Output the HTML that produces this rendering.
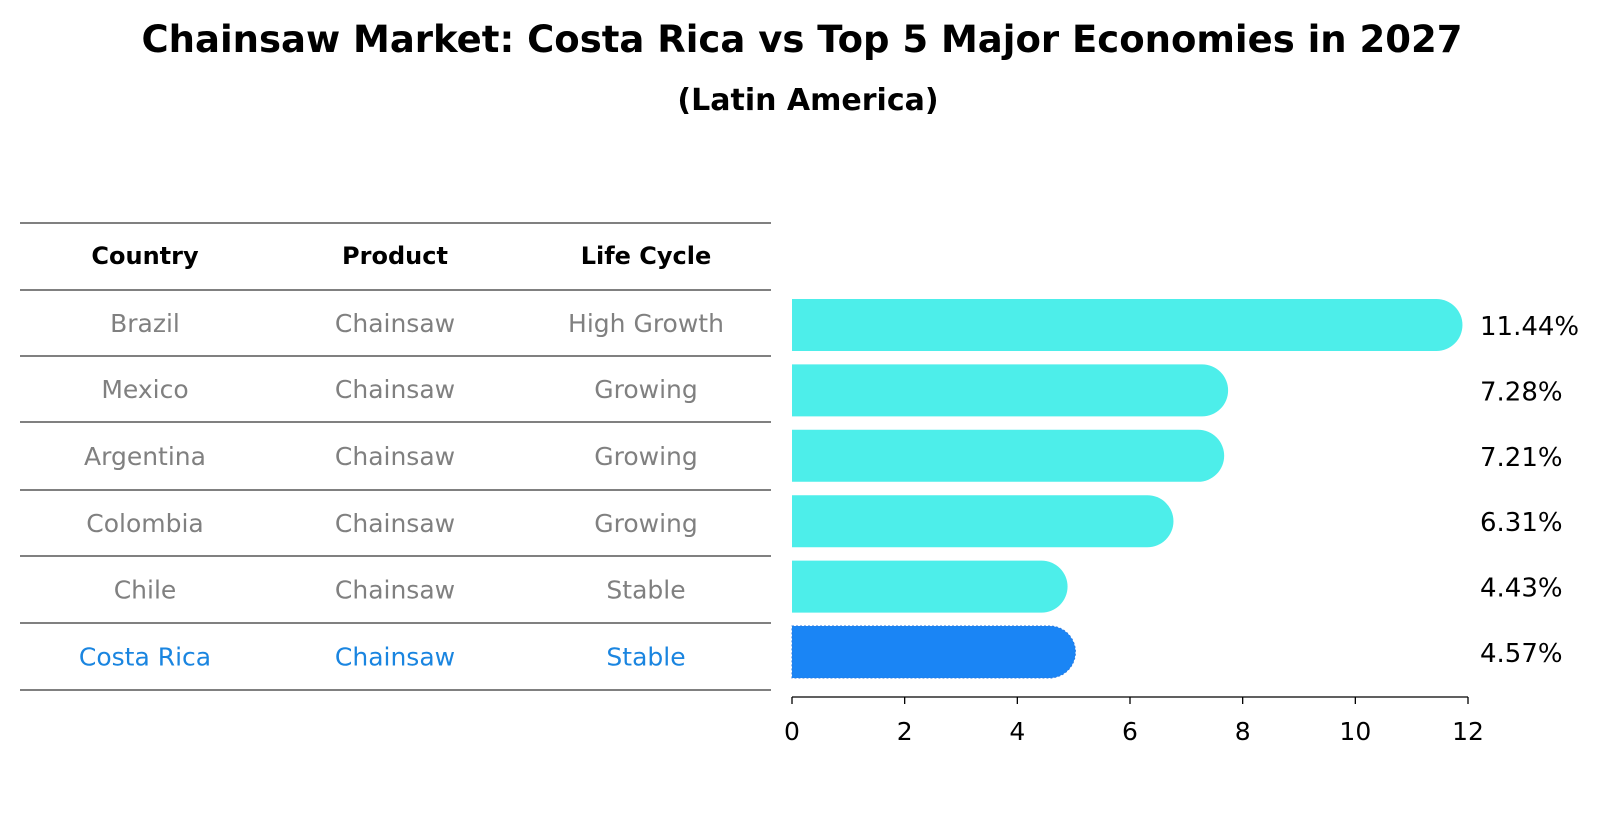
<!DOCTYPE html>
<html><head><meta charset="utf-8"><style>
body{margin:0;background:#fff;font-family:"Liberation Sans","DejaVu Sans",sans-serif}
svg text{font-family:"DejaVu Sans","Liberation Sans",sans-serif}
</style></head><body>
<svg id="c" width="1604" height="823" xmlns="http://www.w3.org/2000/svg">
<text x="802" y="52" text-anchor="middle" font-size="37" font-weight="bold">Chainsaw Market: Costa Rica vs Top 5 Major Economies in 2027</text>
<text x="808" y="110" text-anchor="middle" font-size="30" font-weight="bold">(Latin America)</text>
<g id="tbl"></g>
<g id="bars"></g>
</svg>
<script>
const countries=["Brazil","Mexico","Argentina","Colombia","Chile","Costa Rica"];
const products=["Chainsaw","Chainsaw","Chainsaw","Chainsaw","Chainsaw","Chainsaw"];
const lifecycle=["High Growth","Growing","Growing","Growing","Stable","Stable"];
const values=[11.44,7.28,7.21,6.31,4.43,4.57];
const ticks=[0,2,4,6,8,10,12];
const NS="http://www.w3.org/2000/svg";
function mk(p,t,a,txt){const e=document.createElementNS(NS,t);for(const k in a)e.setAttribute(k,a[k]);if(txt!==undefined)e.textContent=txt;p.appendChild(e);return e;}
const tbl=document.getElementById('tbl'),bars=document.getElementById('bars');
const lines=[223,290,356,422,490,556,623,690];
lines.forEach((y,i)=>{const l=mk(tbl,'line',{x1:20,x2:771,y1:y,y2:y,stroke:'#000','stroke-width':1});

});
const cx=[145,395,646];
["Country","Product","Life Cycle"].forEach((h,i)=>{const t=mk(tbl,'text',{x:cx[i],y:264,'text-anchor':'middle','font-size':24,'font-weight':'bold'},h);

});
const X=v=>792+v*(1468-792)/12;
const rowY=i=>325+i*65.4;
countries.forEach((c,i)=>{
 const y=(lines[i+1]+lines[i+2])/2+9;
 const col=i===5?'#1a85e0':'#808080';
 [c,products[i],lifecycle[i]].forEach((s,j)=>{const t=mk(tbl,'text',{x:cx[j],y:y,'text-anchor':'middle','font-size':25,fill:col},s);
 
 });
 const cy=rowY(i),h=52,r=26;
 const x0=X(0),x1=X(values[i]);
 const fill=i===5?'#1a85f5':'#4deeea';
 const p=mk(bars,'path',{d:`M${x0},${cy-h/2}H${x1}A${r},${r} 0 0 1 ${x1},${cy+h/2}H${x0}Z`,fill:fill,stroke:i===5?'#2a7ae0':'none','stroke-dasharray':i===5?'2,2':'none'});
 
 
 const t=mk(bars,'text',{x:1480,y:cy+10,'font-size':26},values[i].toFixed(2)+'%');
 
 
});
const ax=mk(bars,'line',{x1:X(0),x2:X(12),y1:697,y2:697,stroke:'#000','stroke-width':1.3});


ticks.forEach(v=>{const l=mk(bars,'line',{x1:X(v),x2:X(v),y1:697,y2:704,stroke:'#000','stroke-width':1.3});


const t=mk(bars,'text',{x:X(v),y:740,'text-anchor':'middle','font-size':25},v);

});
</script>
</body></html>
